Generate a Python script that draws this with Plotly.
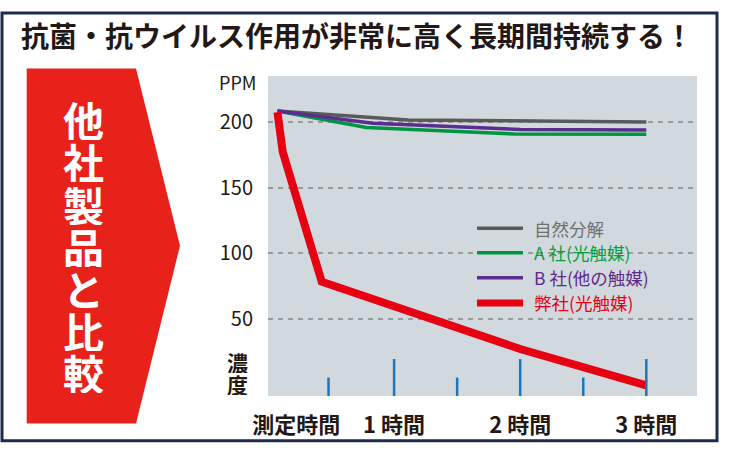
import plotly.graph_objects as go

# ---- data (x in hours, y in PPM) ----
natural_x = [0.075, 1.11, 3.0]
natural_y = [208, 201.2, 199.7]
a_x = [0.075, 0.78, 1.96, 3.0]
a_y = [208, 195.5, 190.5, 190.3]
b_x = [0.075, 0.83, 2.0, 3.0]
b_y = [208, 198.7, 194.0, 193.5]
ours_x = [0.075, 0.117, 0.426, 2.0, 3.0]
ours_y = [207, 176.9, 78.6, 27.6, 0]

series_names = ["自然分解", "A 社(光触媒)", "B 社(他の触媒)", "弊社(光触媒)"]
line_colors = ["#5a5a5a", "#00953f", "#5c2d91", "#e60012"]
text_colors = ["#707070", "#00a040", "#60288a", "#e60012"]
line_widths = [3.5, 3.5, 3.5, 8]
legend_widths = [3.5, 3.5, 3.5, 7]

x_tickvals = [0.225, 1, 2, 3]
x_ticktext = ["測定時間", "1 時間", "2 時間", "3 時間"]
y_tickvals = [50, 100, 150, 200]
major_marks = [1, 2, 3]
minor_marks = [0.48, 1.5, 2.5]

title_text = "抗菌・抗ウイルス作用が非常に高く長期間持続する！"
side_text = "他社製品と比較"
y_unit = "PPM"
y_label = "濃度"

W, H = 732, 451
L, R, T, B = 268, 35, 76, 50
X_RANGE = [0, 3.402]
Y_RANGE = [-8.0, 234.5]
FONT = "Noto Sans CJK JP"
DARK = "#231815"


def px(x):
    return (x - L) / (W - L - R)


def py(y):
    return (H - B - y) / (H - T - B)


fig = go.Figure()
xs = [natural_x, a_x, b_x, ours_x]
ys = [natural_y, a_y, b_y, ours_y]
for i in range(4):
    fig.add_trace(go.Scatter(x=xs[i], y=ys[i], mode="lines", name=series_names[i],
                             line=dict(color=line_colors[i], width=line_widths[i]),
                             showlegend=False, hoverinfo="skip"))

shapes = []
# time marks
for m in major_marks:
    shapes.append(dict(type="line", xref="x", yref="y", x0=m, x1=m, y0=Y_RANGE[0], y1=20,
                       line=dict(color="#1a75bc", width=2.5)))
for m in minor_marks:
    shapes.append(dict(type="line", xref="x", yref="y", x0=m, x1=m, y0=Y_RANGE[0], y1=6,
                       line=dict(color="#1a75bc", width=2.5)))

# outer frame
shapes.append(dict(type="rect", xref="paper", yref="paper", x0=px(2), x1=px(717),
                   y0=py(446.5), y1=py(12), line=dict(color="#1e2b4f", width=3), layer="below"))

# red arrow
pts = [(26.7, 68.3), (136, 68.3), (180, 248.3), (136, 429), (26.7, 429)]
path = "M " + " L ".join(f"{px(a):.5f},{py(b):.5f}" for a, b in pts) + " Z"
shapes.append(dict(type="path", xref="paper", yref="paper", path=path,
                   fillcolor="#e8221b", line=dict(width=0)))

annotations = []
# manual legend
legend_rows = [230.7, 255.5, 281, 306.5]
for i in range(4):
    shapes.append(dict(type="line", xref="paper", yref="paper", x0=px(477), x1=px(523),
                       y0=py(legend_rows[i]), y1=py(legend_rows[i]),
                       line=dict(color=line_colors[i], width=legend_widths[i])))
    annotations.append(dict(xref="paper", yref="paper", x=px(532), y=py(legend_rows[i]),
                            xanchor="left", yanchor="middle", showarrow=False,
                            text=series_names[i],
                            font=dict(family=FONT, size=17.5, color=text_colors[i])))

# title
annotations.append(dict(xref="paper", yref="paper", x=px(357), y=py(34), xanchor="center",
                        yanchor="middle", showarrow=False, text=f"<b>{title_text}</b>",
                        font=dict(family=FONT, size=28, color=DARK)))
# side vertical text
for k, ch in enumerate(side_text):
    annotations.append(dict(xref="paper", yref="paper", x=px(83), y=py(120 + k * 42.8),
                            xanchor="center", yanchor="middle", showarrow=False,
                            text=f"<b>{ch}</b>", height=42, valign="middle",
                            font=dict(family=FONT, size=41, color="white")))
# PPM
annotations.append(dict(xref="paper", yref="paper", x=px(237), y=py(82.5), xanchor="center",
                        yanchor="middle", showarrow=False, text=y_unit,
                        font=dict(family=FONT, size=18, color=DARK)))
# 濃度
for k, ch in enumerate(y_label):
    annotations.append(dict(xref="paper", yref="paper", x=px(237), y=py(366 + k * 22.5),
                            xanchor="center", yanchor="middle", showarrow=False,
                            text=f"<b>{ch}</b>", height=22, valign="middle",
                            font=dict(family=FONT, size=21, color=DARK)))

fig.update_layout(
    width=W, height=H,
    margin=dict(l=L, r=R, t=T, b=B, pad=0),
    paper_bgcolor="white",
    plot_bgcolor="#d2d9de",
    showlegend=False,
    shapes=shapes,
    annotations=annotations,
    xaxis=dict(range=X_RANGE, tickmode="array", tickvals=x_tickvals,
               ticktext=[f"<b>{t}</b>" for t in x_ticktext],
               showgrid=False, zeroline=False, showline=False, ticks="",
               ticklabelstandoff=14,
               tickfont=dict(family=FONT, size=22, color=DARK), fixedrange=True),
    yaxis=dict(range=Y_RANGE, tickmode="array", tickvals=y_tickvals,
               showgrid=True, gridcolor="#9b9b9b", gridwidth=2, griddash="5px,5px",
               zeroline=False, showline=False, ticks="", ticklabelstandoff=14,
               tickfont=dict(family=FONT, size=20, color=DARK), fixedrange=True),
)

fig.write_html("out.html", config={"displayModeBar": False},
               post_script="document.body.style.margin='0px';document.body.style.overflow='hidden';")
